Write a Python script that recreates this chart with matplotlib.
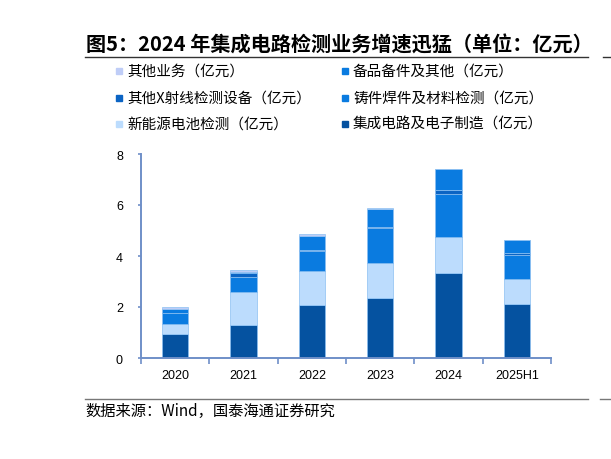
import numpy as np
import matplotlib.pyplot as plt
from matplotlib.lines import Line2D

# --- 数据 (亿元) ---
years = ['2020', '2021', '2022', '2023', '2024', '2025H1']
ic = [0.94, 1.29, 2.09, 2.35, 3.32, 2.12]          # 集成电路及电子制造
new_energy = [0.39, 1.29, 1.31, 1.36, 1.41, 0.98]  # 新能源电池检测
casting = [0.43, 0.60, 0.78, 1.37, 1.70, 0.93]     # 铸件焊件及材料检测
xray = [0.02, 0.16, 0.04, 0.07, 0.16, 0.07]        # 其他X射线检测设备
spare = [0.16, 0.05, 0.58, 0.71, 0.81, 0.51]       # 备品备件及其他
other = [0.05, 0.08, 0.07, 0.02, 0.02, 0.02]       # 其他业务

series = [
    ('集成电路及电子制造（亿元）', ic, '#0552a0'),
    ('新能源电池检测（亿元）', new_energy, '#bcdcfd'),
    ('铸件焊件及材料检测（亿元）', casting, '#0a7be0'),
    ('其他X射线检测设备（亿元）', xray, '#0b64c4'),
    ('备品备件及其他（亿元）', spare, '#0a7be0'),
    ('其他业务（亿元）', other, '#bfcdf7'),
]

plt.rcParams['font.family'] = ['Noto Sans CJK SC', 'DejaVu Sans']

fig = plt.figure(figsize=(6.11, 4.6), dpi=100)
ax = fig.add_axes([141 / 611, 1 - 359 / 460, 410 / 611, 204 / 460])

x = np.arange(len(years))
bottom = np.zeros(len(years))
for name, vals, color in series:
    ax.bar(x, vals, width=0.39, bottom=bottom, color=color,
           edgecolor='#8cc0f2', linewidth=0.5)
    bottom += np.array(vals)

ax.set_xlim(-0.5, len(years) - 0.5)
ax.set_ylim(0, 8)
ax.set_yticks([0, 2, 4, 6, 8])
ax.set_xticks(x)
ax.set_xticklabels(years, family=['Liberation Sans'], fontsize=9)
ax.set_xticks(np.arange(-0.5, len(years)), minor=True)
ax.tick_params(axis='x', which='major', length=0, pad=8)
ax.tick_params(axis='x', which='minor', length=4, width=1.2, color='#6f8fc8', direction='out')
ax.tick_params(axis='y', length=2, width=1.2, color='#6f8fc8', pad=11)
for lab in ax.get_yticklabels():
    lab.set_family('Liberation Sans')
    lab.set_fontsize(9)

for side in ['top', 'right']:
    ax.spines[side].set_visible(False)
for side in ['left', 'bottom']:
    ax.spines[side].set_color('#6f8fc8')
    ax.spines[side].set_linewidth(1.4)

# 图例 (手动排版成两列三行)
legend_items = [
    ('其他业务（亿元）', '#bfcdf7', 119, 72),
    ('备品备件及其他（亿元）', '#0a7be0', 345, 72),
    ('其他X射线检测设备（亿元）', '#0b64c4', 119, 99),
    ('铸件焊件及材料检测（亿元）', '#0a7be0', 345, 99),
    ('新能源电池检测（亿元）', '#bcdcfd', 119, 125),
    ('集成电路及电子制造（亿元）', '#0552a0', 345, 125),
]
for text, color, px, py in legend_items:
    fig.add_artist(Line2D([px / 611], [1 - py / 460], marker='s', markersize=5,
                          color=color, linestyle='none'))
    fig.text((px + 8) / 611, 1 - py / 460, text, fontsize=10.5, va='center', ha='left')

# 标题与分隔线
fig.text(86 / 611, 1 - 45 / 460, '图5：2024 年集成电路检测业务增速迅猛（单位：亿元）',
         fontsize=14.5, fontweight='bold', va='center', ha='left')
fig.add_artist(Line2D([85 / 611, 588 / 611], [1 - 58 / 460] * 2, color='#333333', linewidth=1))
fig.add_artist(Line2D([603 / 611, 1], [1 - 58 / 460] * 2, color='#333333', linewidth=1))
fig.add_artist(Line2D([85 / 611, 588 / 611], [1 - 400 / 460] * 2, color='#777777', linewidth=1))
fig.add_artist(Line2D([600 / 611, 1], [1 - 400 / 460] * 2, color='#777777', linewidth=1))

fig.text(85 / 611, 1 - 411 / 460, '数据来源：Wind，国泰海通证券研究',
         fontsize=11, va='center', ha='left')

fig.savefig('out.png', dpi=100)
